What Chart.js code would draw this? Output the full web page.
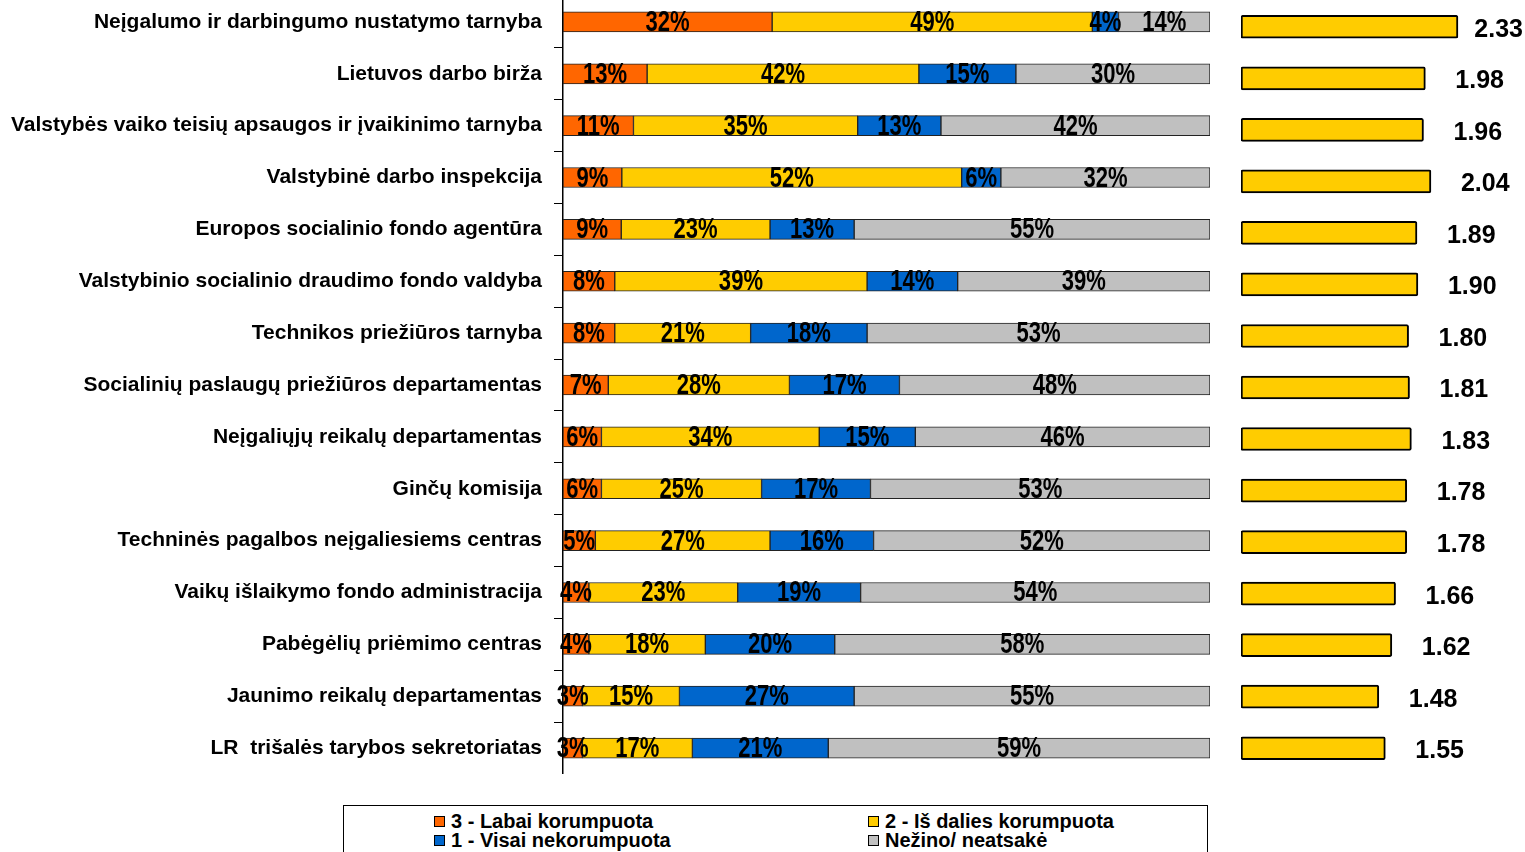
<!DOCTYPE html>
<html>
<head>
<meta charset="utf-8">
<script src="https://cdn.jsdelivr.net/npm/chart.js@4.4.1/dist/chart.umd.min.js"></script>
<style>
  body { margin: 0; background: #fff; width: 1525px; height: 852px; overflow: hidden; position: relative; font-family: "Liberation Sans", Arial, sans-serif; }
  #leftChart { position: absolute; left: 0; top: -4px; }
  #rightChart { position: absolute; left: 1225px; top: 1px; }
  #legend { position: absolute; left: 343px; top: 805px; width: 865px; height: 70px; border: 1.5px solid #000; box-sizing: border-box; }
  .item { position: absolute; font-weight: bold; font-size: 20px; line-height: 19px; color: #000; white-space: nowrap; }
  .item span { display: inline-block; width: 9px; height: 9px; border: 1px solid #000; margin-right: 6px; vertical-align: 1px; }
</style>
</head>
<body>
<canvas id="leftChart" width="1214" height="778"></canvas>
<canvas id="rightChart" width="300" height="773"></canvas>
<div id="legend"></div>
<script>
const categories = [
  "Neįgalumo ir darbingumo nustatymo tarnyba",
  "Lietuvos darbo birža",
  "Valstybės vaiko teisių apsaugos ir įvaikinimo tarnyba",
  "Valstybinė darbo inspekcija",
  "Europos socialinio fondo agentūra",
  "Valstybinio socialinio draudimo fondo valdyba",
  "Technikos priežiūros tarnyba",
  "Socialinių paslaugų priežiūros departamentas",
  "Neįgaliųjų reikalų departamentas",
  "Ginčų komisija",
  "Techninės pagalbos neįgaliesiems centras",
  "Vaikų išlaikymo fondo administracija",
  "Pabėgėlių priėmimo centras",
  "Jaunimo reikalų departamentas",
  "LR  trišalės tarybos sekretoriatas"
]

const labaiKorumpuota = [32, 13, 11, 9, 9, 8, 8, 7, 6, 6, 5, 4, 4, 3, 3]
const isDaliesKorumpuota = [49, 42, 35, 52, 23, 39, 21, 28, 34, 25, 27, 23, 18, 15, 17]
const visaiNekorumpuota = [4, 15, 13, 6, 13, 14, 18, 17, 15, 17, 16, 19, 20, 27, 21]
const nezino = [14, 30, 42, 32, 55, 39, 53, 48, 46, 53, 52, 54, 58, 55, 59]

const averages = [2.33, 1.98, 1.96, 2.04, 1.89, 1.90, 1.80, 1.81, 1.83, 1.78, 1.78, 1.66, 1.62, 1.48, 1.55]

const seriesNames = ["3 - Labai korumpuota", "2 - Iš dalies korumpuota", "1 - Visai nekorumpuota", "Nežino/ neatsakė"]
const seriesColors = ["#FF6600", "#FFCC00", "#0066CC", "#C0C0C0"]

// 100% stacked: each row scaled to its own total, labels keep the raw percent
const rawSeries = [labaiKorumpuota, isDaliesKorumpuota, visaiNekorumpuota, nezino]
const rowTotals = categories.map((_, i) => rawSeries.reduce((s, arr) => s + arr[i], 0))

const percentLabels = {
  id: "percentLabels",
  afterDatasetsDraw(chart) {
    const ctx = chart.ctx
    ctx.save()
    ctx.font = "bold 29px 'Liberation Sans', Arial, sans-serif"
    ctx.fillStyle = "#000"
    ctx.textAlign = "center"
    ctx.textBaseline = "middle"
    chart.data.datasets.forEach((ds, di) => {
      chart.getDatasetMeta(di).data.forEach((bar, i) => {
        const p = bar.getCenterPoint()
        ctx.save()
        ctx.translate(p.x, p.y + 1)
        ctx.scale(0.76, 1)
        ctx.fillText(ds.raw[i] + "%", 0, 0)
        ctx.restore()
      })
    })
    ctx.restore()
  }
}

new Chart(document.getElementById("leftChart"), {
  type: "bar",
  data: {
    labels: categories,
    datasets: rawSeries.map((arr, k) => ({
      label: seriesNames[k],
      raw: arr,
      data: arr.map((v, i) => v / rowTotals[i] * 100),
      backgroundColor: seriesColors[k],
      borderColor: "#222",
      borderWidth: 1,
      borderSkipped: false,
      barThickness: 20
    }))
  },
  options: {
    indexAxis: "y",
    responsive: false,
    animation: false,
    layout: { padding: { left: 0, right: 4, top: 0, bottom: 0 } },
    plugins: { legend: { display: false }, tooltip: { enabled: false } },
    scales: {
      x: { stacked: true, min: 0, max: 100, display: false },
      y: {
        stacked: true,
        afterFit(scale) {
          scale.width = 563
          scale.paddingTop = 0
          scale.paddingBottom = 0
        },
        border: { display: true, color: "#000", width: 1.5 },
        grid: { offset: true, drawOnChartArea: false, drawTicks: true, tickLength: 9, color: "#000" },
        ticks: {
          autoSkip: false,
          color: "#000",
          padding: 12,
          font: { family: "'Liberation Sans', Arial, sans-serif", size: 21, weight: "bold" }
        }
      }
    }
  },
  plugins: [percentLabels]
})

const valueLabels = {
  id: "valueLabels",
  afterDatasetsDraw(chart) {
    const ctx = chart.ctx
    ctx.save()
    ctx.font = "bold 25px 'Liberation Sans', Arial, sans-serif"
    ctx.fillStyle = "#000"
    ctx.textAlign = "left"
    ctx.textBaseline = "middle"
    const ds = chart.data.datasets[0]
    chart.getDatasetMeta(0).data.forEach((bar, i) => {
      const txt = ds.data[i].toFixed(2)
      const w = ctx.measureText(txt).width
      const x = Math.min(bar.x + 30, chart.width - w - 2)
      ctx.fillText(txt, x, bar.y + 3)
    })
    ctx.restore()
  }
}

new Chart(document.getElementById("rightChart"), {
  type: "bar",
  data: {
    labels: categories,
    datasets: [{
      data: averages,
      backgroundColor: "#FFCC00",
      borderColor: "#000",
      borderWidth: 2,
      borderRadius: 2,
      borderSkipped: false,
      barThickness: 23
    }]
  },
  options: {
    indexAxis: "y",
    responsive: false,
    animation: false,
    layout: { padding: { left: 16, right: 0, top: 0, bottom: 0 } },
    plugins: { legend: { display: false }, tooltip: { enabled: false } },
    scales: {
      x: { min: 0, max: 3.05, display: false },
      y: { display: false }
    }
  },
  plugins: [valueLabels]
})

// legend, two columns
const legend = document.getElementById("legend")
const legendPos = [[90, 6], [524, 6], [90, 25], [524, 25]]
seriesNames.forEach((name, k) => {
  const d = document.createElement("div")
  d.className = "item"
  d.style.left = legendPos[k][0] + "px"
  d.style.top = legendPos[k][1] + "px"
  d.innerHTML = '<span style="background:' + seriesColors[k] + '"></span>' + name
  legend.appendChild(d)
})
</script>
</body>
</html>
